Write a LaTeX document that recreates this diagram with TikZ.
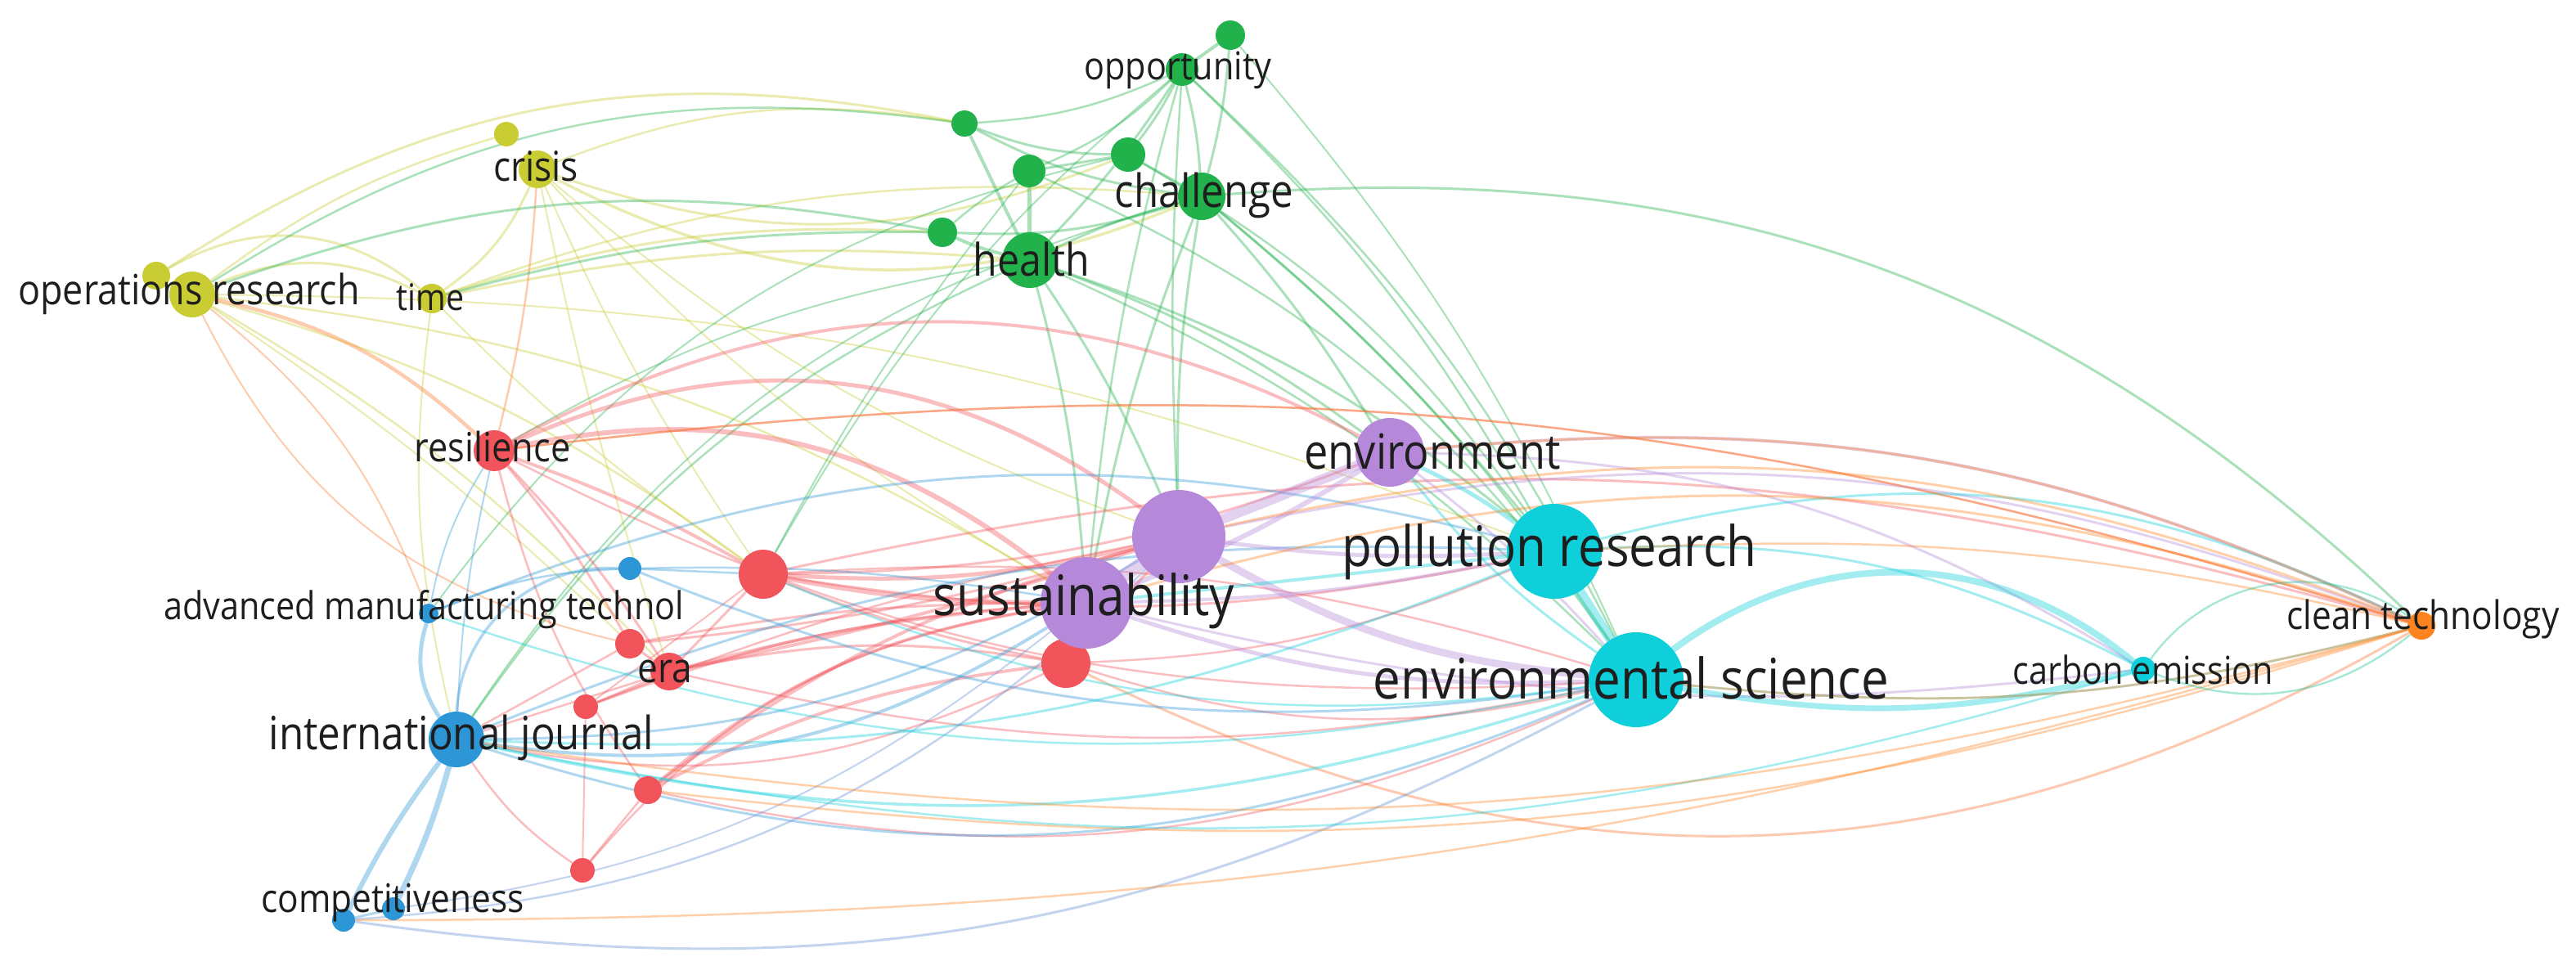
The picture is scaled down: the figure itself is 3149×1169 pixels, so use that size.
\documentclass[tikz,border=0pt]{standalone}
\usepackage{fontspec}
\setmainfont{Open Sans}[FakeStretch=0.88]
\usetikzlibrary{backgrounds}
\definecolor{cred}{HTML}{F2545B}
\definecolor{cgreen}{HTML}{22B24C}
\definecolor{cblue}{HTML}{2D96D6}
\definecolor{cyel}{HTML}{C9CC33}
\definecolor{cpur}{HTML}{B688DA}
\definecolor{ccyan}{HTML}{0FCFDA}
\definecolor{corg}{HTML}{FF8420}
\definecolor{txt}{HTML}{1E1E1E}
\tikzset{
  nd/.style={circle, inner sep=0pt, draw=none, minimum size=#1*0.25pt},
  lab/.style={text=txt, inner sep=0pt, font=\fs{#1}},
  edge/.style={opacity=.38, line cap=round}
}
\newcommand{\fs}[1]{\fontsize{\fpeval{#1/4*1.12}}{\fpeval{#1/4}}\selectfont}
\begin{document}
\begin{tikzpicture}[x=0.25pt,y=-0.25pt]
\useasboundingbox (0,0) rectangle (3149,1169);
% yellow
\node[nd=30, fill=cyel] (y1) at (619,164) {};
\node[nd=46, fill=cyel] (cri) at (657,207) {};
\node[nd=34, fill=cyel] (ops2) at (191,337) {};
\node[nd=56, fill=cyel] (ops) at (235,360) {};
\node[nd=36, fill=cyel] (tim) at (528,365) {};
% green
\node[nd=36, fill=cgreen] (g1) at (1504,43) {};
\node[nd=40, fill=cgreen] (opp) at (1445,85) {};
\node[nd=32, fill=cgreen] (g2) at (1179,151) {};
\node[nd=40, fill=cgreen] (g3) at (1258,209) {};
\node[nd=42, fill=cgreen] (g4) at (1379,189) {};
\node[nd=58, fill=cgreen] (cha) at (1469,240) {};
\node[nd=36, fill=cgreen] (g5) at (1152,284) {};
\node[nd=68, fill=cgreen] (hea) at (1259,318) {};
% red
\node[nd=50, fill=cred] (res) at (604,551) {};
\node[nd=60, fill=cred] (r1) at (933,702) {};
\node[nd=36, fill=cred] (r2) at (770,787) {};
\node[nd=46, fill=cred] (era) at (818,821) {};
\node[nd=30, fill=cred] (r3) at (716,864) {};
\node[nd=34, fill=cred] (r4) at (792,966) {};
\node[nd=30, fill=cred] (r5) at (712,1064) {};
\node[nd=60, fill=cred] (r6) at (1303,811) {};
% blue
\node[nd=28, fill=cblue] (b1) at (770,695) {};
\node[nd=24, fill=cblue] (adv) at (524,750) {};
\node[nd=68, fill=cblue] (ij) at (558,904) {};
\node[nd=28, fill=cblue] (comp) at (420,1125) {};
\node[nd=28, fill=cblue] (comp2) at (481,1111) {};
% purple
\node[nd=84, fill=cpur] (env) at (1699,553) {};
\node[nd=114, fill=cpur] (pu) at (1441,656) {};
\node[nd=112, fill=cpur] (sus) at (1328,737) {};
% cyan
\node[nd=116, fill=ccyan] (pol) at (1900,674) {};
\node[nd=116, fill=ccyan] (es) at (2000,831) {};
\node[nd=30, fill=ccyan] (ce) at (2620,818) {};
% orange
\node[nd=34, fill=corg] (ct) at (2960,765) {};

\begin{pgfonlayer}{background}
\fill[white] (0,0) rectangle (3149,1169);
% yellow edges
\foreach \a/\b/\bd/\w in {ops2/tim/35/3, ops/tim/25/3, ops/y1/10/2.5, ops2/g2/22/3, cri/tim/15/3,
  cri/cha/-25/3.5, cri/g4/-20/3, cri/g2/15/2.5, tim/hea/8/3, tim/g5/10/3, tim/cha/12/2.5,
  ops/r1/10/2.5, ops/era/8/2.5, ops/sus/12/2.5, ops/r2/5/2, cri/r1/-5/2, cri/era/-3/2, cri/sus/-8/2,
  tim/ij/-10/2, tim/r1/-5/2, ops/pol/10/2, cri/pu/-10/2}
  \draw[edge, cyel, line width=\w*0.25pt] (\a) to[bend left=\bd] (\b);
\foreach \a/\b/\bd/\w in {ops/res/15/4.5, cri/res/5/2.5, ops/adv/15/2, ops/r2/-25/2}
  \draw[edge, corg!80!cred, line width=\w*0.25pt] (\a) to[bend left=\bd] (\b);
% green edges
\foreach \a/\b/\bd/\w in {opp/g1/0/4, opp/cha/5/3, opp/hea/5/3, opp/g3/10/2.5, opp/g4/5/3, opp/g2/10/2.5,
  g1/cha/5/3, g2/hea/0/4, g2/g4/-10/3, g2/cha/-10/3, g3/g4/0/3, g3/hea/0/5, g4/cha/0/3,
  g5/hea/-5/4, g5/cha/-10/3, hea/cha/5/3, g5/g3/5/2.5, cha/ct/24/3,
  hea/sus/5/3, hea/pu/5/3, hea/env/8/3, hea/pol/10/3, hea/es/10/2.5, cha/sus/-5/3, cha/pu/-5/3,
  cha/pol/5/3, cha/es/8/2.5, cha/env/5/3, opp/pol/8/2.5, opp/es/10/2.5, opp/sus/-5/2.5, opp/pu/-3/2.5,
  g4/pol/12/2.5, g3/es/15/2.5, g5/ops/-15/3, g5/tim/-8/3, g2/ops/-20/2.5, hea/ij/-15/2.5,
  hea/res/-10/2, g4/adv/-20/2, cha/ij/-20/2, g3/r1/-5/2, opp/r1/-10/2, g1/es/8/2}
  \draw[edge, cgreen, line width=\w*0.25pt] (\a) to[bend left=\bd] (\b);
% red edges
\foreach \a/\b/\bd/\w in {res/r1/5/4, res/sus/25/6, res/pu/30/5, res/env/28/4, res/era/5/3, res/r2/5/3,
  res/r4/-10/2.5, res/es/-15/2.5, r1/sus/-5/6, r1/pu/-8/5, r1/env/-10/3, r1/pol/-10/3, r1/es/10/2.5,
  r1/era/0/3, r2/sus/5/3, r2/pu/-5/3, r2/era/0/3, era/sus/5/4, era/pu/-3/4, era/es/-12/2.5, era/r6/10/3,
  r3/era/0/2.5, r3/sus/8/3, r3/pu/5/2.5, r3/r1/0/2, r4/sus/15/4, r4/pu/10/4, r4/es/-18/2.5,
  r4/r6/10/4, r5/ij/10/2.5, r5/r4/0/2.5, r5/r3/0/2, r5/sus/20/2.5, r6/sus/0/5, r6/pu/0/4,
  r6/ij/18/2.5, r6/r1/5/3, r6/es/-15/2.5, r6/pol/-10/2.5, r1/ct/14/3, res/ct/12/2.5, era/ij/0/2.5, r2/ij/0/2.5}
  \draw[edge, cred, line width=\w*0.25pt] (\a) to[bend left=\bd] (\b);
\draw[edge, corg!70!cred, line width=0.75pt] (r6) to[bend right=28] (ct);
% blue edges
\foreach \a/\b/\bd/\w in {ij/adv/25/5, ij/comp/-5/6, ij/comp2/5/7, ij/b1/45/3.5, ij/sus/-20/4, ij/pu/-15/3,
  ij/es/-20/3, ij/pol/12/3, b1/es/-15/3, adv/pol/18/3, adv/b1/10/2.5, b1/r1/0/2.5, b1/sus/5/2.5,
  adv/res/10/2, ij/res/5/2, comp2/comp/0/3}
  \draw[edge, cblue, line width=\w*0.25pt] (\a) to[bend left=\bd] (\b);
\foreach \a/\b/\bd/\w in {comp/es/-18/3, comp/pu/-20/2.5, comp2/sus/-15/2}
  \draw[edge, cblue!60!cpur, line width=\w*0.25pt] (\a) to[bend left=\bd] (\b);
% purple edges
\foreach \a/\b/\bd/\w in {pu/sus/0/16, pu/env/0/12, sus/env/-5/6, pu/es/-12/9, sus/es/-10/5, sus/pol/-5/4,
  pu/pol/-5/5, env/ct/15/4, pu/ct/16/3, env/es/5/3, env/ce/15/3, sus/ce/-10/3}
  \draw[edge, cpur, line width=\w*0.25pt] (\a) to[bend left=\bd] (\b);
% cyan edges
\foreach \a/\b/\bd/\w in {pol/es/0/12, es/ce/38/8, es/ce/-12/7, pol/ce/15/3, env/pol/5/5, env/es/-8/3,
  es/ij/15/3.5, pol/ij/12/3, es/r1/15/2.5, es/adv/15/2.5, pol/ct/20/3, es/ct/-10/2.5, pol/sus/0/4, ce/ij/14/2.5}
  \draw[edge, ccyan, line width=\w*0.25pt] (\a) to[bend left=\bd] (\b);
% orange edges
\foreach \a/\b/\bd/\w in {ct/pu/-17/3, ct/sus/-17/3, ct/env/-15/3, ct/es/10/3, ct/pol/-8/2.5, ct/ij/12/2.5,
  ct/comp/8/2.5, ct/r4/12/2.5, ct/res/-12/2.5}
  \draw[edge, corg, line width=\w*0.25pt] (\a) to[bend left=\bd] (\b);
\draw[edge, cgreen!50!ccyan, line width=0.6pt] (ce) to[bend left=45] (ct);
\draw[edge, cgreen!50!ccyan, line width=0.6pt] (ce) to[bend right=30] (ct);
\end{pgfonlayer}

% labels
\node[lab=42] (lopp) at (1440,86) {opportunity};
\node[lab=45] (lcri) at (655,203) {crisis};
\node[lab=50] (lcha) at (1472,239) {challenge};
\node[lab=49] (lhea) at (1261,317) {health};
\node[lab=45.5] (lops) at (231,359) {operations research};
\node[lab=40] (ltim) at (526,363) {time};
\node[lab=44] (lres) at (602,546) {resilience};
\node[lab=53] (lenv) at (1751,552) {environment};
\node[lab=61] (lpol) at (1894,675) {pollution research};
\node[lab=61] (lsus) at (1325,735) {sustainability};
\node[lab=42] (ladv) at (518,745) {advanced manufacturing technol};
\node[lab=45] (lera) at (813,821) {era};
\node[lab=50] (lij) at (564,902) {international journal};
\node[lab=61] (les) at (1994,829) {environmental science};
\node[lab=42] (lce) at (2620,819) {carbon emission};
\node[lab=43] (lct) at (2962,757) {clean technology};
\node[lab=43] (lcomp) at (480,1104) {competitiveness};
\end{tikzpicture}
\end{document}
